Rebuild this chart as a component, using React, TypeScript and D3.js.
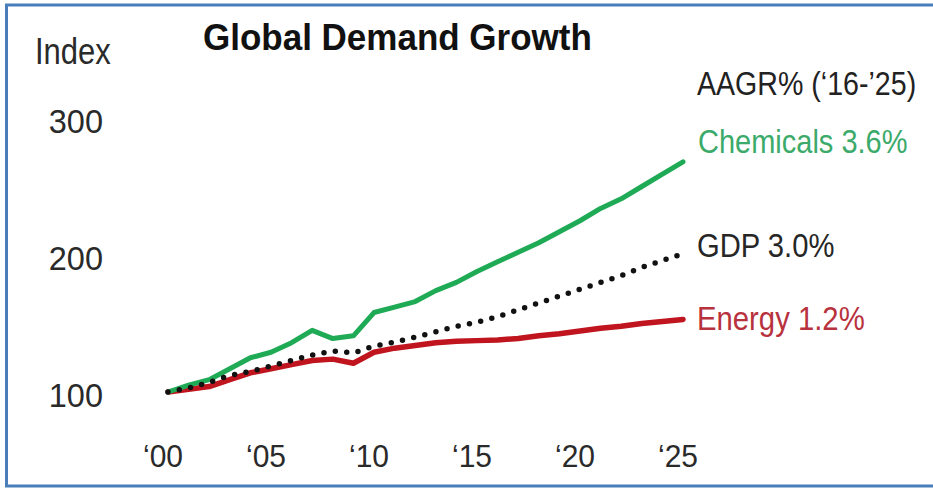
import React from "react";
import * as d3 from "d3";

const years = [2000, 2001, 2002, 2003, 2004, 2005, 2006, 2007, 2008, 2009, 2010, 2011, 2012, 2013, 2014, 2015, 2016, 2017, 2018, 2019, 2020, 2021, 2022, 2023, 2024, 2025];
const chemicals = [100, 105, 109, 117, 125, 129, 136, 145, 139, 141, 158, 162, 166, 174, 180, 188, 195, 202, 209, 217, 225, 234, 241, 250, 259, 268];
const gdp = [100, 103, 107, 112, 115, 119, 123, 127, 130, 128.5, 133.5, 136.5, 140, 144, 148, 151, 155, 160, 165, 170, 175, 180, 185, 191, 196, 201];
const energy = [100, 102, 104, 109, 114, 117, 120, 123, 124, 121, 129, 132, 134, 136, 137, 137.5, 138, 139, 141, 142.5, 144.5, 146.5, 148, 150, 151.5, 153];
const yTicks = [100, 200, 300];
const xTicks = [2000, 2005, 2010, 2015, 2020, 2025];
const xTickLabels = ["‘00", "‘05", "‘10", "‘15", "‘20", "‘25"];
const labels = ["Chemicals 3.6%", "GDP 3.0%", "Energy 1.2%"];

const W = 933;
const H = 491;
const FONT = "'Liberation Sans', Arial, sans-serif";

function SText(props: { x: number; y: number; size: number; fill: string; sy?: number; anchor?: string; weight?: string; children: React.ReactNode }) {
  const { x, y, size, fill, sy = 1.15, anchor = "start", weight = "normal", children } = props;
  return (
    <text transform={`translate(${x},${y}) scale(1,${sy})`} fontSize={size} fill={fill} textAnchor={anchor} fontWeight={weight}>
      {children}
    </text>
  );
}

export default function App() {
  const x = d3.scaleLinear().domain([2000, 2025]).range([168, 683]);
  const y = d3.scaleLinear().domain([100, 300]).range([392, 118]);
  const mk = (vals: number[]) =>
    d3.line<number>().x((_, i) => x(years[i])).y((v) => y(v))(vals) || "";

  const blue = "#4A7EBB";
  return (
    <div style={{ position: "absolute", left: 0, top: 0, width: W, height: H, background: "#fff" }}>
      <svg width={W} height={H} style={{ display: "block" }} fontFamily={FONT}>
        <rect x={0} y={0} width={W} height={H} fill="#fff" />
        {/* frame */}
        <line x1={5} x2={W} y1={5} y2={5} stroke={blue} strokeWidth={3} />
        <line x1={6.5} x2={6.5} y1={4} y2={487} stroke={blue} strokeWidth={3} />
        <line x1={5} x2={W} y1={486} y2={486} stroke={blue} strokeWidth={3} />

        <SText x={35} y={64} size={31} fill="#2a2a2a" sy={1.2}>Index</SText>
        <SText x={203} y={50} size={35} fill="#111" weight="bold" sy={1.05}>Global Demand Growth</SText>
        <SText x={697} y={95} size={28.6} fill="#222">AAGR% (‘16-’25)</SText>

        {yTicks.map((t) => (
          <SText key={t} x={103} y={y(t) + 15} size={32.5} fill="#2a2a2a" anchor="end" sy={1.05}>{t}</SText>
        ))}
        {xTicks.map((t, i) => (
          <SText key={t} x={x(t) - 5} y={467} size={30} fill="#2a2a2a" anchor="middle" sy={1.05}>{xTickLabels[i]}</SText>
        ))}

        <path d={mk(energy)} fill="none" stroke="#C0141E" strokeWidth={5.5} strokeLinejoin="round" strokeLinecap="round" />
        <path d={mk(chemicals)} fill="none" stroke="#1FAA55" strokeWidth={5} strokeLinejoin="round" strokeLinecap="round" />
        <path d={mk(gdp)} fill="none" stroke="#111" strokeWidth={5.5} strokeLinecap="round" strokeDasharray="0 11.5" />

        <SText x={698} y={153} size={29} fill="#3BAA6A">{labels[0]}</SText>
        <SText x={697} y={257} size={29.2} fill="#262626">{labels[1]}</SText>
        <SText x={697} y={330} size={29.3} fill="#B8323E">{labels[2]}</SText>
      </svg>
    </div>
  );
}
